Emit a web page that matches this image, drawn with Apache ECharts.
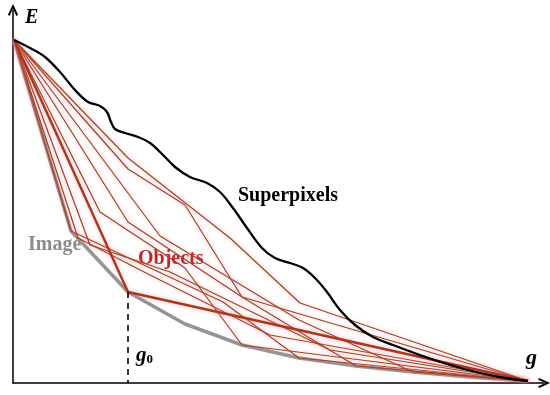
<!DOCTYPE html>
<html><head><meta charset="utf-8">
<script src="https://cdn.jsdelivr.net/npm/echarts@6/dist/echarts.min.js"></script>
<style>html,body{margin:0;padding:0;background:#fff}#c{width:550px;height:395px}</style>
</head><body><div id="c"></div>
<script>
// Data (arbitrary units: g on x, E on y)
const superpixels = [[1,343],[17,335],[32,326],[47,311],[62,293],[75,281],[87,277],[94,271],[98,261],[102,254],[112,250],[125,246],[137,240],[150,228],[162,216],[177,206],[194,200],[207,191],[220,175],[234,155],[249,135],[262,125],[277,120],[290,115],[302,105],[314,91],[327,73],[342,58],[360,46],[380,38],[407,28],[437,18],[467,10],[492,5],[515,2]];
const imageG = [1,58,115,172,229,286,343,400,457,515];
const imageE = [343,152,91,59,38,25,17,11,6,2];
const objectsG = [1,115,515];
const objectsE = [343,91,2];
const g0 = 115;
const meshLines = [
  [[1,343],[58,152],[210,81],[286,25],[515,2]],
  [[1,343],[65,145],[137,108],[257,48],[515,2]],
  [[1,343],[77,138],[157,111],[317,33],[515,2]],
  [[1,343],[87,171],[172,115],[229,38],[515,2]],
  [[1,343],[115,161],[229,86],[343,17],[515,2]],
  [[1,343],[147,147],[286,63],[400,11],[515,2]],
  [[1,343],[115,214],[172,178],[229,86],[515,2]],
  [[1,343],[115,225],[217,145],[287,80],[515,2]]
];

const chart = echarts.init(document.getElementById('c'));
const zip = (a,b)=>a.map((v,i)=>[v,b[i]]);
const series = [];
meshLines.forEach(l=>series.push({type:'line',data:l,symbol:'none',silent:true,z:3,
  lineStyle:{color:'#9c4520',width:1.2,shadowColor:'rgba(255,110,140,0.55)',shadowBlur:4}}));
series.push({type:'line',data:zip(imageG,imageE),symbol:'none',z:2,lineStyle:{color:'#959595',width:3.5}});
series.push({type:'line',data:zip(objectsG,objectsE),symbol:'none',z:4,lineStyle:{color:'#a8381a',width:2.4,shadowColor:'rgba(255,110,140,0.5)',shadowBlur:4}});
series.push({type:'line',data:superpixels,symbol:'none',smooth:0.35,z:5,lineStyle:{color:'#000',width:2.3}});
series.push({type:'line',data:[[g0,objectsE[1]],[g0,0]],symbol:'none',z:5,lineStyle:{color:'#000',width:1.6,type:[6,5]}});

const chevron = 'path://M5,0 L10,10.5 L8.3,11.8 L5,4.4 L1.7,11.8 L0,10.5 Z';
chart.setOption({
  animation:false,
  grid:{left:13,right:6,top:10,bottom:12},
  xAxis:{type:'value',min:0,max:531,axisLine:{lineStyle:{color:'#000',width:1.5},symbol:['none',chevron],symbolSize:[12,12],onZero:false},
    axisTick:{show:false},axisLabel:{show:false},splitLine:{show:false}},
  yAxis:{type:'value',min:0,max:373,axisLine:{show:true,lineStyle:{color:'#000',width:1.5},symbol:['none',chevron],symbolSize:[12,12],onZero:false},
    axisTick:{show:false},axisLabel:{show:false},splitLine:{show:false}},
  series:series,
  graphic:[
    {type:'text',left:25,top:8,style:{text:'E',font:'italic bold 20px "Liberation Serif"',fill:'#000'}},
    {type:'text',left:526,top:347,style:{text:'g',font:'italic bold 22px "Liberation Serif"',fill:'#000'}},
    {type:'text',left:136,top:345,style:{text:'{a|g}{b|0}',rich:{a:{font:'italic bold 21px "Liberation Serif"',fill:'#000'},b:{font:'bold 13px "Liberation Serif"',fill:'#000',padding:[8,0,0,0]}}}},
    {type:'text',left:238,top:186,style:{text:'Superpixels',font:'bold 20px "Liberation Serif"',fill:'#000'}},
    {type:'text',left:28,top:235,style:{text:'Image',font:'bold 20px "Liberation Serif"',fill:'#8c8c8c'}},
    {type:'text',left:138,top:249,style:{text:'Objects',font:'bold 20px "Liberation Serif"',fill:'#c4242c'}}
  ]
});
</script></body></html>
